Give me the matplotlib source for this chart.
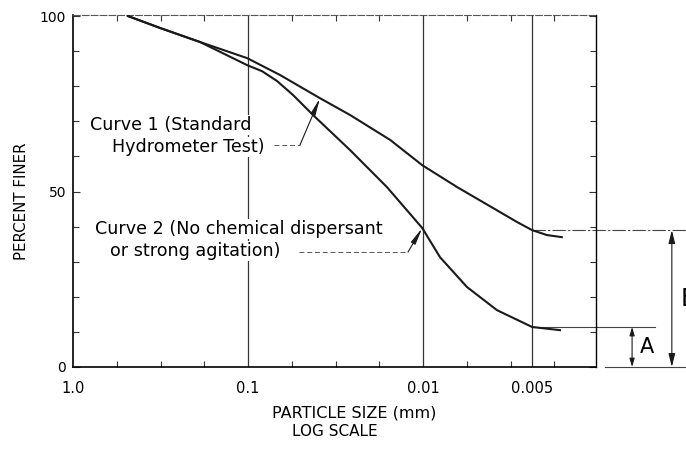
import matplotlib
matplotlib.use("Agg")
import matplotlib.pyplot as plt
import numpy as np

# particle size (mm), percent finer
# the drawn "0.005" line sits at 0.00238 on the log axis of the figure
x_005 = 0.00238

curve1_mm = [0.485, 0.318, 0.188, 0.101, 0.0656, 0.0388, 0.0261, 0.0154,
             0.0101, 0.0064, 0.00398, 0.0029, x_005, 0.00196, 0.00161]
curve1_pct = [100, 96.6, 92.6, 88.0, 83.2, 76.6, 71.8, 64.7,
              57.5, 51.3, 45.3, 41.3, 39.0, 37.6, 37.0]

curve2_mm = [0.485, 0.318, 0.188, 0.101, 0.0832, 0.0683, 0.0553, 0.0425,
             0.0261, 0.0161, 0.0101, 0.008, 0.00561, 0.00378, x_005, 0.00165]
curve2_pct = [100, 96.6, 92.6, 86.0, 84.3, 81.5, 77.5, 71.8,
              61.8, 51.3, 39.6, 31.3, 22.8, 16.2, 11.4, 10.5]

xtick_pos = [1.0, 0.1, 0.01, x_005]
xtick_labels = ["1.0", "0.1", "0.01", "0.005"]
ytick_pos = [0, 50, 100]
ytick_labels = ["0", "50", "100"]

plt.rcParams['font.family'] = ['DejaVu Sans']

fig = plt.figure(figsize=(6.86, 4.49), dpi=100)
ax = fig.add_axes([73/686, 82/449, 523/686, 352/449])
ax.set_xscale('log')
ax.set_xlim(1.0, 0.001027)
ax.set_ylim(0, 100.3)

# vertical reference lines
for xv in xtick_pos[1:]:
    ax.axvline(xv, color='#333333', lw=0.9, zorder=1)

ax.plot(curve1_mm, curve1_pct, color='#1a1a1a', lw=1.5, zorder=3)
ax.plot(curve2_mm, curve2_pct, color='#1a1a1a', lw=1.5, zorder=3)

# ticks
ax.set_xticks(xtick_pos)
ax.set_xticklabels(xtick_labels)
ax.set_xticks([10**(-k/4) for k in range(1, 12) if k % 4], minor=True)
ax.xaxis.set_minor_formatter(matplotlib.ticker.NullFormatter())
ax.set_yticks(ytick_pos)
ax.set_yticklabels(ytick_labels)
ax.set_yticks(np.arange(10, 100, 10), minor=True)
ax.tick_params(axis='both', which='both', direction='in', top=True, right=True,
               labelsize=10, color='#333333', width=0.8)
ax.tick_params(axis='x', which='major', length=0, pad=10, labelsize=10.5)
ax.tick_params(axis='x', which='minor', length=4)
ax.tick_params(axis='y', which='major', length=5, pad=5)
ax.tick_params(axis='y', which='minor', length=4)

for side in ['left', 'bottom']:
    ax.spines[side].set_linewidth(1.2)
ax.spines['right'].set_linewidth(1.0)
ax.spines['top'].set_linewidth(0.8)
ax.spines['top'].set_linestyle((0, (6, 2)))
ax.spines['top'].set_color('#555555')

# curve labels
tb = dict(fc='white', ec='none', pad=1)
ax.text(0.0325, 0.6875, "Curve 1 (Standard", transform=ax.transAxes,
        fontsize=12.6, va='center', ha='left', bbox=tb, zorder=2)
ax.text(0.0746, 0.625, "Hydrometer Test)", transform=ax.transAxes,
        fontsize=12.6, va='center', ha='left', bbox=tb, zorder=2)
ax.text(0.042, 0.392, "Curve 2 (No chemical dispersant", transform=ax.transAxes,
        fontsize=12.6, va='center', ha='left', bbox=tb, zorder=2)
ax.text(0.0707, 0.3295, "or strong agitation)", transform=ax.transAxes,
        fontsize=12.6, va='center', ha='left', bbox=tb, zorder=2)

# leaders
ax.plot([0.384, 0.434], [0.631, 0.631], transform=ax.transAxes,
        color='#555555', lw=0.7, ls=(0, (5, 3)), zorder=2)
ax.annotate('', xy=(curve1_mm[5], curve1_pct[5]), xycoords='data',
            xytext=(0.434, 0.631), textcoords='axes fraction',
            arrowprops=dict(arrowstyle='-|>,head_length=1.0,head_width=0.15',
                            color='#1a1a1a', lw=0.8, shrinkA=0, shrinkB=0))
ax.plot([0.432, 0.6405], [0.3267, 0.3267], transform=ax.transAxes,
        color='#555555', lw=0.7, ls=(0, (5, 3)), zorder=2)
ax.annotate('', xy=(curve2_mm[10], curve2_pct[10]), xycoords='data',
            xytext=(0.6405, 0.3267), textcoords='axes fraction',
            arrowprops=dict(arrowstyle='-|>,head_length=1.0,head_width=0.15',
                            color='#1a1a1a', lw=0.8, shrinkA=0, shrinkB=0))

# dimension lines A and B
level_a = curve2_pct[curve2_mm.index(x_005)]
level_b = curve1_pct[curve1_mm.index(x_005)]
tr = ax.get_yaxis_transform()
ax.plot([0.8776, 1.18], [level_b, level_b], transform=tr, clip_on=False,
        color='#444444', lw=0.8, ls=(0, (12, 2, 2, 2)))
ax.plot([0.8776, 1.113], [level_a, level_a], transform=tr, clip_on=False,
        color='#444444', lw=0.8)
ax.plot([1.017, 1.18], [0, 0], transform=tr, clip_on=False,
        color='#444444', lw=0.8)
ax.annotate('', xy=(1.069, level_a), xycoords=tr, xytext=(1.069, 0), textcoords=tr,
            arrowprops=dict(arrowstyle='<|-|>,head_length=0.5,head_width=0.15',
                            color='#1a1a1a', lw=0.8, shrinkA=0, shrinkB=0))
ax.annotate('', xy=(1.145, level_b), xycoords=tr, xytext=(1.145, 0), textcoords=tr,
            arrowprops=dict(arrowstyle='<|-|>,head_length=0.8,head_width=0.2',
                            color='#1a1a1a', lw=0.8, shrinkA=0, shrinkB=0))
ax.text(1.084, 5.7, "A", transform=tr, fontsize=15, va='center', ha='left')
# the reference crops this letter at the right edge
ax.text(1.162, 19.5, "B", transform=tr, fontsize=17, va='center', ha='left')

# axis titles
fig.text(22/686, 1 - 201/449, "PERCENT FINER", rotation=90, fontsize=10.8,
         ha='center', va='center')
fig.text(272/686, 1 - 413/449, "PARTICLE SIZE (mm)", fontsize=11.5,
         ha='left', va='center')
fig.text(292/686, 1 - 431/449, "LOG SCALE", fontsize=11,
         ha='left', va='center')

fig.savefig("out.png", dpi=100)
